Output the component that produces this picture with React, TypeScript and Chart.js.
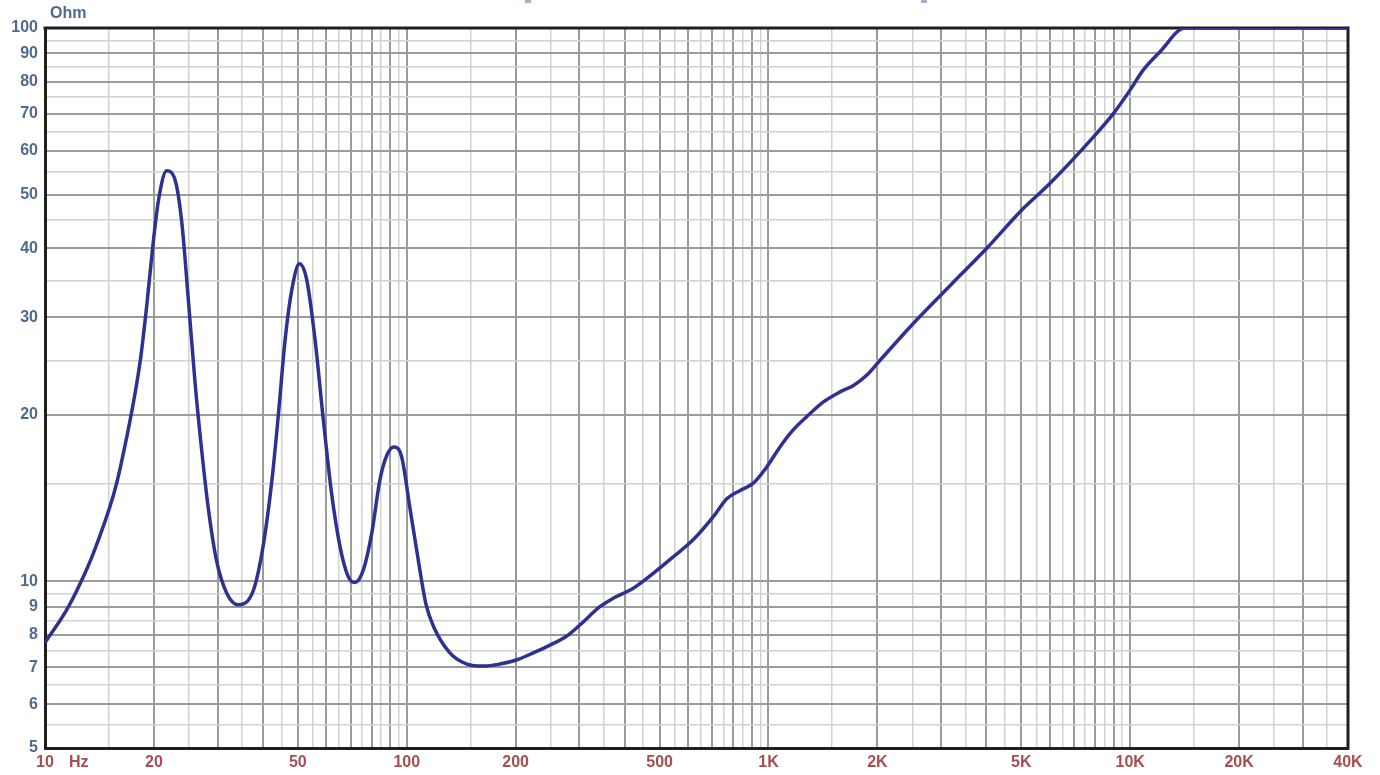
import React, { useEffect, useRef } from 'react';
import { Chart, registerables } from 'chart.js';

Chart.register(...registerables);

// Impedance curve (frequency in Hz, impedance in Ohm)
const freqHz = [
  10, 11.48, 12.5, 13.6, 15.45, 16.1, 18.3, 19.1, 19.9, 20.6, 21.7, 22.9, 23.9, 24.9, 26.0, 27.1, 28.3, 29.8,
  31.8, 34.2, 37.7, 40.1, 42.4, 44.2, 46.1, 48.1, 50.5, 52.9, 55.8, 58.8, 62.0, 65.4, 68.9, 71.9, 75.9,
  80.0, 84.3, 88.1, 92.2, 96.8, 102, 107.7, 113, 118.5, 131.8, 146.6, 163, 181, 201, 224, 249, 277, 301,
  342, 372, 423, 481, 546, 620, 704, 767, 835, 908, 989, 1076, 1172, 1276, 1419, 1578, 1718, 1871, 2035,
  2570, 3200, 4013, 5000, 6004, 8075, 8993, 10000, 10870, 12090, 14180, 40000,
];
const impedanceOhm = [
  7.75, 8.88, 9.9, 11.24, 14.3, 15.9, 24.8, 31.4, 40.8, 48.9, 55.2, 53.1, 44.4, 32.3, 22.8, 17.3, 13.5, 10.9,
  9.52, 9.07, 9.65, 11.6, 15.25, 20.1, 27.3, 33.6, 37.5, 35.1, 27.3, 19.6, 14.4, 11.56, 10.2, 9.95, 10.5,
  12.2, 15.25, 16.9, 17.5, 16.8, 13.6, 10.9, 9.1, 8.3, 7.42, 7.09, 7.03, 7.09, 7.21, 7.43, 7.67, 7.97, 8.34,
  9.0, 9.32, 9.72, 10.35, 11.08, 11.9, 13.09, 14.1, 14.6, 15.05, 16.1, 17.5, 18.8, 19.85, 21.1, 22.0, 22.6, 23.6, 25.1,
  29.7, 34.4, 40.0, 46.8, 52.4, 64.5, 70.1, 77.3, 84.0, 90.6, 100, 100,
];

// Axis tick labels
const xLabelValues = [10, 20, 50, 100, 200, 500, 1000, 2000, 5000, 10000, 20000, 40000];
const xLabelTexts = ['10', '20', '50', '100', '200', '500', '1K', '2K', '5K', '10K', '20K', '40K'];
const yLabelValues = [5, 6, 7, 8, 9, 10, 20, 30, 40, 50, 60, 70, 80, 90, 100];
const yLabelTexts = ['5', '6', '7', '8', '9', '10', '20', '30', '40', '50', '60', '70', '80', '90', '100'];
const gridMultiples = [1, 1.5, 2, 2.5, 3, 3.5, 4, 4.5, 5, 5.5, 6, 6.5, 7, 7.5, 8, 8.5, 9, 9.5];

const X_MIN = 10;
const X_MAX = 40000;
const Y_MIN = 5;
const Y_MAX = 100;

function buildGrid(min: number, max: number): number[] {
  const out: number[] = [];
  for (let e = -1; e < 6; e++) {
    for (const m of gridMultiples) {
      const v = Number((m * Math.pow(10, e)).toPrecision(6));
      if (v >= min * (1 - 1e-9) && v <= max * (1 + 1e-9)) out.push(v);
    }
  }
  return out;
}

function isMajor(v: number): boolean {
  const e = Math.floor(Math.log10(v) + 1e-9);
  const m = v / Math.pow(10, e);
  return Math.abs(m - Math.round(m)) < 1e-6;
}

function findLabel(values: number[], texts: string[], v: number): string {
  const i = values.findIndex((x) => Math.abs(x - v) < 1e-6 * x);
  return i >= 0 ? texts[i] : '';
}

const FONT = '"Liberation Sans", Arial, sans-serif';
const Y_COLOR = '#4e6a8e';
const X_COLOR = '#a64e52';

const decorPlugin = {
  id: 'decor',
  beforeDatasetsDraw(chart: any) {
    const { ctx, chartArea } = chart;
    const { left, top, right, bottom } = chartArea;
    ctx.save();
    ctx.strokeStyle = '#1f1f1f';
    ctx.lineWidth = 3;
    ctx.beginPath();
    ctx.moveTo(left - 1.5, top);
    ctx.lineTo(right, top);
    ctx.lineTo(right, bottom + 1.5);
    ctx.stroke();
    ctx.restore();
  },
  afterDraw(chart: any) {
    const { ctx, chartArea, scales } = chart;
    ctx.save();
    ctx.font = `bold 16px ${FONT}`;
    ctx.fillStyle = Y_COLOR;
    ctx.textAlign = 'left';
    ctx.textBaseline = 'middle';
    ctx.fillText('Ohm', chartArea.left + 5, chartArea.top - 14);
    ctx.fillStyle = X_COLOR;
    const x10 = scales.x.getPixelForValue(X_MIN);
    ctx.fillText('Hz', x10 + 24, chartArea.bottom + 15);
    // small marks at the very top edge
    ctx.fillStyle = '#9fb4ca';
    ctx.fillRect(525, 0, 6, 3);
    ctx.fillRect(921, 0, 6, 3);
    ctx.restore();
  },
};

export default function App() {
  const canvasRef = useRef<HTMLCanvasElement | null>(null);

  useEffect(() => {
    if (!canvasRef.current) return;
    const points = freqHz.map((f, i) => ({ x: f, y: impedanceOhm[i] }));
    const chart = new Chart(canvasRef.current, {
      type: 'line',
      data: {
        datasets: [
          {
            data: points,
            borderColor: '#2e3192',
            borderWidth: 3.5,
            pointRadius: 0,
            fill: false,
            cubicInterpolationMode: 'monotone',
          },
        ],
      },
      options: {
        animation: false,
        responsive: false,
        devicePixelRatio: 1,
        parsing: false as any,
        layout: { padding: { top: 28, right: 32, left: 0, bottom: 0 } },
        plugins: {
          legend: { display: false },
          tooltip: { enabled: false },
          title: { display: false },
        },
        scales: {
          x: {
            type: 'logarithmic',
            min: X_MIN,
            max: X_MAX,
            afterBuildTicks: (scale: any) => {
              scale.ticks = buildGrid(X_MIN, X_MAX).map((v) => ({ value: v }));
            },
            afterFit: (scale: any) => {
              scale.height = 27;
            },
            ticks: {
              autoSkip: false,
              maxRotation: 0,
              minRotation: 0,
              padding: 5,
              color: X_COLOR,
              font: { family: FONT, size: 16, weight: 'bold' },
              callback: (value: any) => findLabel(xLabelValues, xLabelTexts, Number(value)),
            },
            grid: {
              drawTicks: false,
              color: (c: any) => (isMajor(c.tick.value) ? '#9b9b9b' : '#d2d2d2'),
              lineWidth: (c: any) => (isMajor(c.tick.value) ? 2 : 1.5),
            },
            border: { display: true, color: '#1f1f1f', width: 3 },
          },
          y: {
            type: 'logarithmic',
            min: Y_MIN,
            max: Y_MAX,
            afterBuildTicks: (scale: any) => {
              scale.ticks = buildGrid(Y_MIN, Y_MAX).map((v) => ({ value: v }));
            },
            afterFit: (scale: any) => {
              scale.width = 45;
            },
            ticks: {
              autoSkip: false,
              padding: 7,
              color: Y_COLOR,
              font: { family: FONT, size: 16, weight: 'bold' },
              callback: (value: any) => findLabel(yLabelValues, yLabelTexts, Number(value)),
            },
            grid: {
              drawTicks: false,
              color: (c: any) => (isMajor(c.tick.value) ? '#9b9b9b' : '#d2d2d2'),
              lineWidth: (c: any) => (isMajor(c.tick.value) ? 2 : 1.5),
            },
            border: { display: true, color: '#1f1f1f', width: 3 },
          },
        },
      } as any,
      plugins: [decorPlugin],
    });
    return () => chart.destroy();
  }, []);

  return (
    <div style={{ position: 'absolute', left: 0, top: 0, width: 1380, height: 775, background: '#ffffff' }}>
      <canvas ref={canvasRef} width={1380} height={775} style={{ display: 'block', width: 1380, height: 775 }} />
    </div>
  );
}
